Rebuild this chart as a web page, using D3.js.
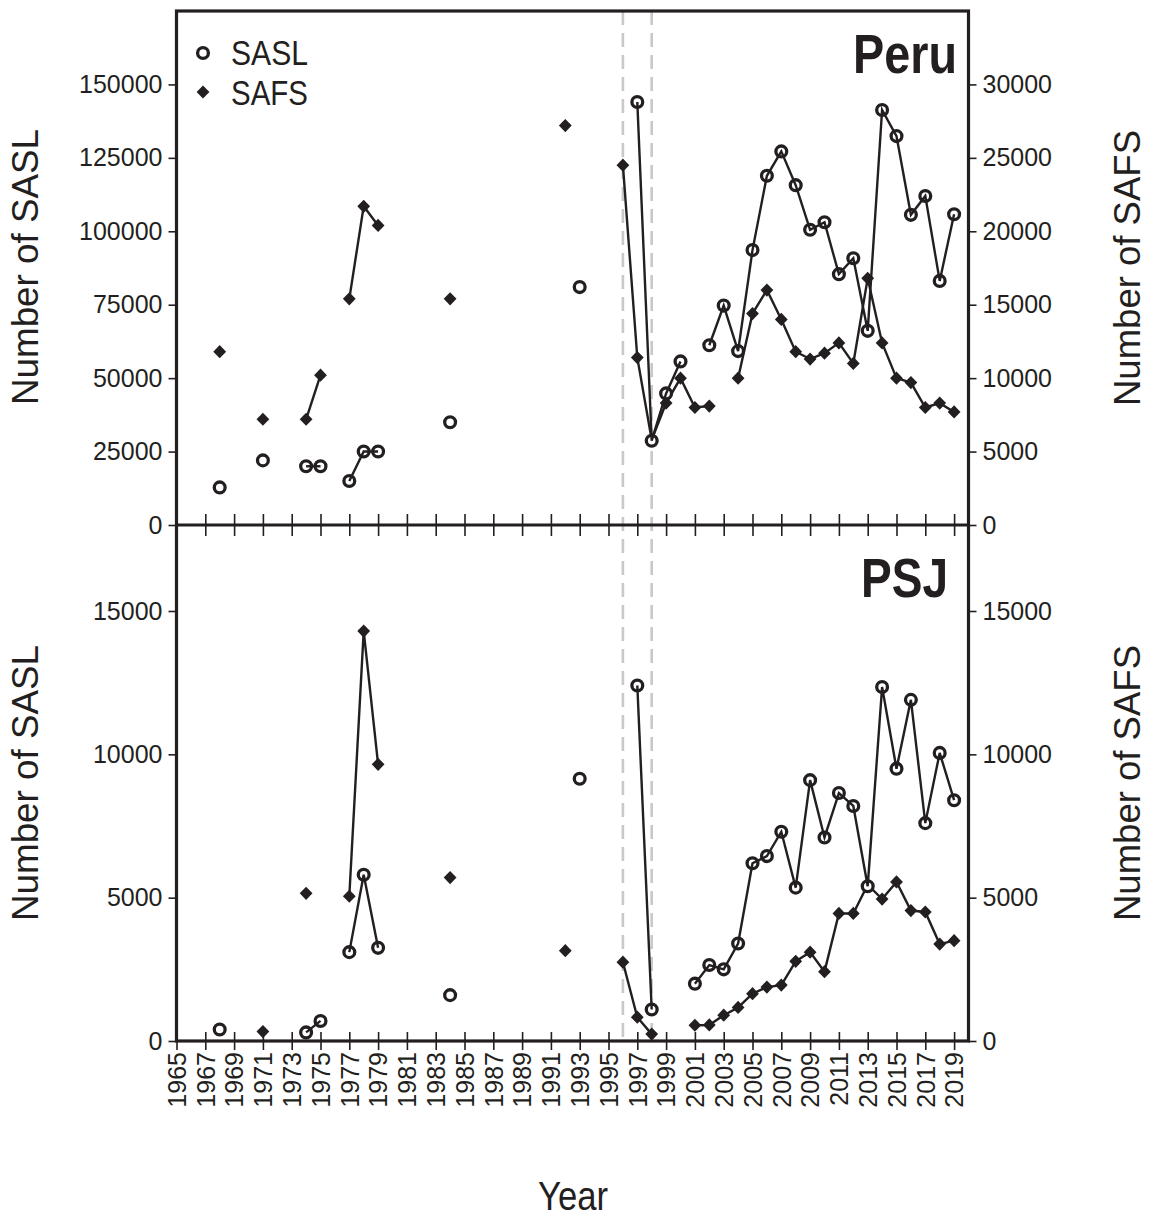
<!DOCTYPE html>
<html>
<head>
<meta charset="utf-8">
<script src="https://cdn.jsdelivr.net/npm/d3@7"></script>
<style>
  html, body { margin: 0; padding: 0; background: #fff; }
  svg { display: block; }
</style>
</head>
<body>
<svg id="chart" width="1149" height="1217"></svg>
<script>
// ---------------- DATA ----------------
const xTickYears = d3.range(1965, 2020, 2);
const periodLines = [1996, 1998];

const peruTicksLeft = [0, 25000, 50000, 75000, 100000, 125000, 150000];
const peruTicksRight = [0, 5000, 10000, 15000, 20000, 25000, 30000];
const psjTicks = [0, 5000, 10000, 15000];

// Peru – SASL (left axis)
const peruSASLYears  = [1968,1971,1974,1975,1977,1978,1979,1984,1993,1997,1998,1999,2000,2002,2003,2004,2005,2006,2007,2008,2009,2010,2011,2012,2013,2014,2015,2016,2017,2018,2019];
const peruSASLValues = [12800,22000,20000,20000,15000,25000,25000,35000,81000,144000,28700,44800,55700,61200,74700,59200,93600,118900,127200,115700,100500,103100,85400,90800,66100,141300,132400,105600,112000,83100,105800];

// Peru – SAFS (right axis)
const peruSAFSYears  = [1968,1971,1974,1975,1977,1978,1979,1984,1992,1996,1997,1998,1999,2000,2001,2002,2004,2005,2006,2007,2008,2009,2010,2011,2012,2013,2014,2015,2016,2017,2018,2019];
const peruSAFSValues = [11800,7200,7200,10200,15400,21700,20400,15400,27200,24500,11400,5800,8300,10000,8000,8100,10000,14400,16000,14000,11800,11300,11700,12400,11000,16800,12400,10000,9700,8000,8300,7700];

// PSJ – SASL (left axis)
const psjSASLYears  = [1968,1974,1975,1977,1978,1979,1984,1993,1997,1998,2001,2002,2003,2004,2005,2006,2007,2008,2009,2010,2011,2012,2013,2014,2015,2016,2017,2018,2019];
const psjSASLValues = [400,300,700,3100,5800,3250,1600,9150,12400,1100,2000,2650,2500,3400,6200,6450,7300,5350,9100,7100,8650,8200,5400,12350,9500,11900,7600,10050,8400];

// PSJ – SAFS (right axis)
const psjSAFSYears  = [1971,1974,1977,1978,1979,1984,1992,1996,1997,1998,2001,2002,2003,2004,2005,2006,2007,2008,2009,2010,2011,2012,2013,2014,2015,2016,2017,2018,2019];
const psjSAFSValues = [330,5150,5050,14300,9650,5700,3150,2750,830,240,550,560,900,1170,1650,1880,1950,2780,3100,2420,4450,4450,5450,4950,5550,4550,4500,3380,3500];

// ---------------- LAYOUT ----------------
const INK = "#231f20";
const FL = 176.5, FR = 968.5;
const P1 = {top: 11, bottom: 525};
const P2 = {top: 525, bottom: 1041};
const tickFont = "'Liberation Sans', Arial, sans-serif";
const narrowFont = "'Liberation Sans Narrow', 'Arial Narrow', 'Liberation Sans', sans-serif";

const svg = d3.select("#chart");

const x = d3.scaleLinear().domain([1965, 2020]).range([FL, FR]);
const yPeruL = d3.scaleLinear().domain([0, 175000]).range([P1.bottom, P1.top]);
const yPeruR = d3.scaleLinear().domain([0, 35000]).range([P1.bottom, P1.top]);
const yPsjL  = d3.scaleLinear().domain([0, 18000]).range([P2.bottom, P2.top]);
const yPsjR  = d3.scaleLinear().domain([0, 18000]).range([P2.bottom, P2.top]);

function zip(ys, vs) { return ys.map((y, i) => ({year: y, value: vs[i]})); }
function runs(pts) {
  const out = []; let cur = [];
  pts.forEach((p, i) => {
    if (i > 0 && p.year - pts[i-1].year !== 1) { out.push(cur); cur = []; }
    cur.push(p);
  });
  if (cur.length) out.push(cur);
  return out.filter(r => r.length > 1);
}

// dashed period lines
svg.append("g").selectAll("line").data(periodLines).join("line")
  .attr("x1", d => x(d)).attr("x2", d => x(d))
  .attr("y1", P1.top).attr("y2", P2.bottom)
  .attr("stroke", "#c8c8c8").attr("stroke-width", 2.6)
  .attr("stroke-dasharray", "14,8");

function styleAxis(g, fontSize) {
  g.select(".domain").remove();
  g.selectAll(".tick line").attr("stroke", INK).attr("stroke-width", 1.6);
  g.selectAll(".tick text").attr("fill", INK)
    .style("font-family", tickFont).style("font-size", fontSize + "px");
}

// y axes
function yAxes(yL, yR, ticksL, ticksR) {
  svg.append("g").attr("transform", `translate(${FL},0)`)
    .call(d3.axisLeft(yL).tickValues(ticksL).tickFormat(d3.format("d")).tickSize(8).tickPadding(6))
    .call(g => styleAxis(g, 25));
  svg.append("g").attr("transform", `translate(${FR},0)`)
    .call(d3.axisRight(yR).tickValues(ticksR).tickFormat(d3.format("d")).tickSize(8).tickPadding(6))
    .call(g => styleAxis(g, 25));
}
yAxes(yPeruL, yPeruR, peruTicksLeft, peruTicksRight);
yAxes(yPsjL, yPsjR, psjTicks, psjTicks);

// x ticks (inner) on shared border and bottom
svg.append("g").attr("transform", `translate(0,${P1.bottom})`)
  .call(d3.axisBottom(x).tickValues(xTickYears).tickSize(-11).tickFormat(""))
  .call(g => styleAxis(g, 25));
svg.append("g").attr("transform", `translate(0,${P2.top})`)
  .call(d3.axisTop(x).tickValues(xTickYears).tickSize(-11).tickFormat(""))
  .call(g => styleAxis(g, 25));
svg.append("g").attr("transform", `translate(0,${P2.bottom})`)
  .call(d3.axisBottom(x).tickValues(xTickYears).tickSize(-9).tickFormat(""))
  .call(g => styleAxis(g, 25));
svg.append("g").attr("transform", `translate(0,${P2.bottom})`)
  .call(d3.axisBottom(x).tickValues(xTickYears).tickSize(9).tickFormat(d3.format("d")))
  .call(g => styleAxis(g, 25))
  .call(g => g.selectAll(".tick text")
    .attr("y", 0).attr("x", -11).attr("dy", "0.35em")
    .attr("transform", "rotate(-90)").style("text-anchor", "end"));

// frame
svg.append("rect").attr("x", FL).attr("y", P1.top)
  .attr("width", FR - FL).attr("height", P2.bottom - P1.top)
  .attr("fill", "none").attr("stroke", INK).attr("stroke-width", 3.2);
svg.append("line").attr("x1", FL).attr("x2", FR).attr("y1", P1.bottom).attr("y2", P1.bottom)
  .attr("stroke", INK).attr("stroke-width", 3.2);

// series
const diamond = "M0,-6.6L6.4,0L0,6.6L-6.4,0Z";
function drawDiamonds(years, values, y) {
  const pts = zip(years, values);
  const line = d3.line().x(d => x(d.year)).y(d => y(d.value));
  const g = svg.append("g");
  g.selectAll("path.ln").data(runs(pts)).join("path").attr("class", "ln")
    .attr("d", line).attr("fill", "none").attr("stroke", INK).attr("stroke-width", 2.4);
  g.selectAll("path.mk").data(pts).join("path").attr("class", "mk")
    .attr("d", diamond).attr("transform", d => `translate(${x(d.year)},${y(d.value)})`)
    .attr("fill", INK);
}
function drawCircles(years, values, y) {
  const pts = zip(years, values);
  const line = d3.line().x(d => x(d.year)).y(d => y(d.value));
  const g = svg.append("g");
  g.selectAll("circle").data(pts).join("circle")
    .attr("cx", d => x(d.year)).attr("cy", d => y(d.value)).attr("r", 5.4)
    .attr("fill", "#fff").attr("stroke", INK).attr("stroke-width", 3.3);
  g.selectAll("path.ln").data(runs(pts)).join("path").attr("class", "ln")
    .attr("d", line).attr("fill", "none").attr("stroke", INK).attr("stroke-width", 2.4);
}
drawDiamonds(peruSAFSYears, peruSAFSValues, yPeruR);
drawCircles(peruSASLYears, peruSASLValues, yPeruL);
drawDiamonds(psjSAFSYears, psjSAFSValues, yPsjR);
drawCircles(psjSASLYears, psjSASLValues, yPsjL);

// legend
svg.append("circle").attr("cx", 203).attr("cy", 53).attr("r", 5.4)
  .attr("fill", "none").attr("stroke", INK).attr("stroke-width", 3.3);
svg.append("path").attr("d", diamond).attr("transform", "translate(203,92)").attr("fill", INK);
[["SASL", 65], ["SAFS", 105]].forEach(([t, yy]) => {
  svg.append("text").attr("x", 231).attr("y", yy).text(t)
    .attr("textLength", 77).attr("lengthAdjust", "spacingAndGlyphs")
    .attr("fill", INK).style("font-family", narrowFont).style("font-size", "35px");
});

// panel labels
svg.append("text").attr("x", 853).attr("y", 73).text("Peru")
  .attr("textLength", 104).attr("lengthAdjust", "spacingAndGlyphs")
  .attr("fill", INK).style("font-family", narrowFont).style("font-weight", "bold").style("font-size", "55px");
svg.append("text").attr("x", 861).attr("y", 597).text("PSJ")
  .attr("textLength", 87).attr("lengthAdjust", "spacingAndGlyphs")
  .attr("fill", INK).style("font-family", narrowFont).style("font-weight", "bold").style("font-size", "55px");

// axis titles
function vTitle(txt, cx, cy) {
  svg.append("text").attr("transform", `translate(${cx},${cy}) rotate(-90)`)
    .attr("text-anchor", "middle").attr("dy", "0.35em").text(txt)
    .attr("textLength", 276).attr("lengthAdjust", "spacingAndGlyphs")
    .attr("fill", INK).style("font-family", narrowFont).style("font-size", "37px");
}
vTitle("Number of SASL", 25, 267);
vTitle("Number of SASL", 25, 783);
vTitle("Number of SAFS", 1127, 268);
vTitle("Number of SAFS", 1127, 783);

svg.append("text").attr("x", 538).attr("y", 1210).text("Year")
  .attr("textLength", 70).attr("lengthAdjust", "spacingAndGlyphs")
  .attr("fill", INK).style("font-family", narrowFont).style("font-size", "40px");
</script>
</body>
</html>
